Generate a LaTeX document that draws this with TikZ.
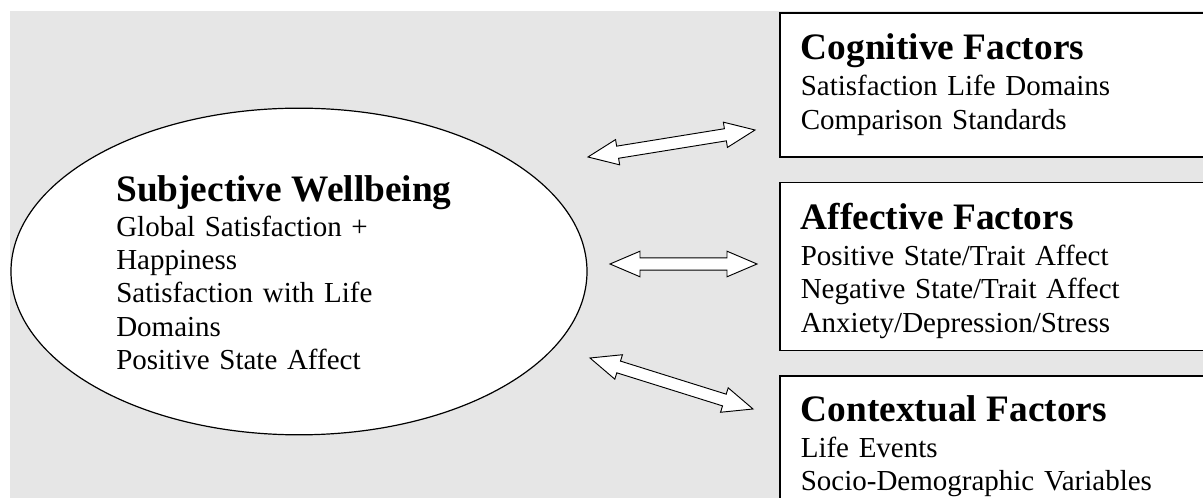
\documentclass[tikz,border=0pt]{standalone}
\usepackage{fontspec}
\setmainfont{Liberation Serif}
\usetikzlibrary{positioning,calc,shapes.geometric}
\definecolor{panel-grey}{HTML}{E6E6E6}
\newcommand{\bodyfont}{\fontsize{21.75pt}{25pt}\selectfont}
\newcommand{\titlefont}{\fontsize{28pt}{30pt}\selectfont\bfseries}
\newcommand{\headlen}{22.5pt}
\newcommand{\headhw}{9.6pt}
\newcommand{\shafthw}{4.6pt}
\tikzset{
    factor-box/.style = {draw, fill=white, line width=1.2pt, rectangle, text width=300pt, inner xsep=15.75pt, inner ysep=0pt, align=left, font=\bodyfont},
    wellbeing-oval/.style = {draw, fill=white, line width=0.9pt, ellipse, minimum width=432pt, minimum height=245pt, inner sep=0pt},
    wellbeing-text/.style = {text width=270pt, inner sep=0pt, align=left, font=\bodyfont},
    two-way/.style = {draw, fill=white, line width=0.7pt, line join=miter},
}
\newcommand{\twowayarrow}[2]{%
  \draw[two-way] (#1)
    -- ($(#1)!\headlen!(#2)!\headhw!90:(#2)$)
    -- ($(#1)!\headlen!(#2)!\shafthw!90:(#2)$)
    -- ($(#2)!\headlen!(#1)!\shafthw!-90:(#1)$)
    -- ($(#2)!\headlen!(#1)!\headhw!-90:(#1)$)
    -- (#2)
    -- ($(#2)!\headlen!(#1)!\headhw!90:(#1)$)
    -- ($(#2)!\headlen!(#1)!\shafthw!90:(#1)$)
    -- ($(#1)!\headlen!(#2)!\shafthw!-90:(#2)$)
    -- ($(#1)!\headlen!(#2)!\headhw!-90:(#2)$)
    -- cycle;}

\begin{document}
\begin{tikzpicture}[x=0.75pt, y=-0.75pt]
\useasboundingbox (0,0) rectangle (1203,498);
\clip (0,0) rectangle (1203,498);
\fill[panel-grey] (10,11) rectangle (1203,498);

\node[wellbeing-oval] (wellbeing) at (299,271.5) {};
\node[wellbeing-text, anchor=north west] (wellbeing-list) at (116,175) {%
    {\titlefont Subjective Wellbeing}\\[1.25pt]
    Global Satisfaction +\\
    Happiness\\
    Satisfaction with Life\\
    Domains\\
    Positive State Affect};

\node[factor-box, minimum height=108pt, anchor=north west] (cognitive) at (779,12) {%
    {\titlefont Cognitive Factors}\\[2pt]
    Satisfaction Life Domains\\
    Comparison Standards};
\node[factor-box, minimum height=126pt, below=18pt of cognitive] (affective) {%
    {\titlefont\rule{0pt}{26.5pt}Affective Factors}\\[2pt]
    Positive State/Trait Affect\\
    Negative State/Trait Affect\\
    Anxiety/Depression/Stress};
\node[factor-box, minimum height=105pt, below=18pt of affective] (contextual) {%
    {\titlefont Contextual Factors}\\[2pt]
    Life Events\\
    Socio-Demographic Variables};

\coordinate (cognitive-in) at (588,157);
\coordinate (cognitive-out) at (755,130);
\coordinate (affective-in) at (610,264);
\coordinate (affective-out) at (757,264);
\coordinate (contextual-in) at (590,358);
\coordinate (contextual-out) at (753,409);
\twowayarrow{cognitive-in}{cognitive-out}
\twowayarrow{affective-in}{affective-out}
\twowayarrow{contextual-in}{contextual-out}
\end{tikzpicture}
\end{document}
